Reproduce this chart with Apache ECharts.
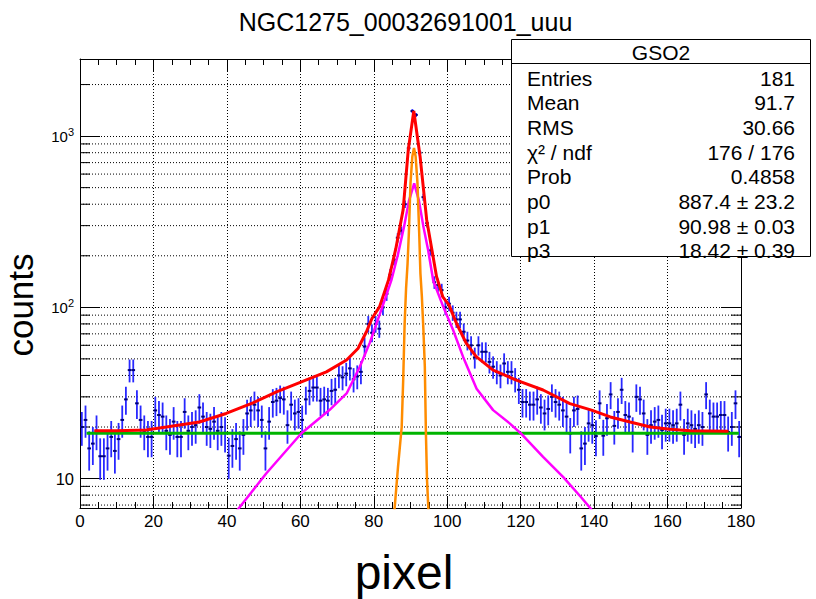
<!DOCTYPE html>
<html>
<head>
<meta charset="utf-8">
<script src="https://cdn.jsdelivr.net/npm/echarts@6/dist/echarts.min.js"></script>
<style>
html,body{margin:0;padding:0;background:#ffffff;}
#chart{width:816px;height:599px;}
</style>
</head>
<body>
<div id="chart"></div>
<script>
// ---------------- data ----------------
const chartTitle = 'NGC1275_00032691001_uuu';
const xAxisTitle = 'pixel';
const yAxisTitle = 'counts';

const xMin = 0, xMax = 180, xTickStep = 20, binWidth = 1;
const yMin = 6.73, yMax = 2820;

// histogram contents, one per bin (bin i spans [i, i+1])
const counts = [
  20, 22, 15, 16, 19, 13.5, 13.5, 15, 17.5, 14.5,
  17, 22, 29, 43, 43, 27.5, 22, 19, 17.5, 17.5,
  25, 23.5, 23, 19, 18, 21.5, 17.5, 17.5, 24.5, 19,
  20, 20.5, 26, 23, 20, 19.5, 21.5, 19, 20, 18.5,
  13.6, 15.5, 17, 15, 18, 24, 25, 27, 25, 22,
  15, 21.5, 28, 28.5, 29.5, 29, 20.5, 27, 24, 24.5,
  22, 29, 32.5, 34, 34, 28.5, 29, 28.5, 32.5, 33,
  40, 39, 41, 44, 38, 39.5, 42, 59, 80, 71,
  80, 75, 100, 120, 155, 190, 255, 280, 400, 850,
  1400, 1330, 800, 440, 310, 215, 140, 135, 126, 100,
  105, 93, 85, 85, 72, 64, 60, 51, 60, 55,
  55, 48, 45, 42, 40, 47, 42, 42, 38, 33,
  28, 28, 27, 27, 29, 26, 24, 25.5, 30, 28,
  27, 25, 23, 18.3, 25, 25.5, 15, 16, 21, 20.5,
  17.7, 27.5, 17.8, 22.5, 31, 20.3, 24.5, 33, 23.5, 23,
  18.5, 30, 29, 24, 18, 20.5, 21.5, 22, 19.2, 21,
  21, 20.5, 21, 27, 18, 21, 20.5, 19.5, 20.5, 20,
  31, 24, 23, 23, 23.5, 23.5, 18.7, 20, 27.5, 17.5
];

const yMajorTicks = [10, 100, 1000];
const yMajorLabelBase = ['10', '10', '10'];
const yMajorLabelExp = ['', '2', '3'];
const yMinorTicks = [7, 8, 9, 20, 30, 40, 50, 60, 70, 80, 90,
                     200, 300, 400, 500, 600, 700, 800, 900, 2000];

// fitted curves, points [x, counts]
const fitTotal = [
  [3.9, 19.0], [10, 19.0], [18, 19.2], [23.5, 20.0], [32.5, 21.4], [39.8, 24.0],
  [47.1, 27.7], [53.5, 32.1], [60.3, 36.7], [67.1, 42.0], [72.6, 49.2], [75.7, 57.5],
  [78.0, 72], [79.5, 86], [81.6, 101], [84.0, 144], [86.0, 220], [88.0, 372],
  [89.4, 834], [90.9, 1400], [92.6, 763], [94.4, 325], [97.1, 151], [98.8, 115],
  [100.5, 103], [102.5, 80.7], [105.2, 61.6], [107.9, 51.5], [112.5, 43.0], [118.8, 37.6],
  [126.1, 32.9], [133.4, 27.4], [139.3, 25.1], [144.4, 22.9], [149.8, 21.4], [155.3, 20.0],
  [160.7, 19.4], [166.2, 19.0], [176.6, 18.9]
];
const fitCore = [
  [42.5, 6.4], [50.7, 10.7], [60.3, 18.4], [68.0, 25.2], [72.6, 31.4], [76.2, 45],
  [78.9, 62], [82.5, 103], [84.8, 144], [86.5, 200], [88.3, 300], [89.6, 420],
  [91.0, 530], [92.3, 420], [93.5, 297], [94.8, 216], [96.2, 143], [98.9, 101],
  [101.6, 73.7], [104.3, 51.5], [108.0, 33.5], [112.5, 25.1], [117.0, 21.0], [120.0, 18.4],
  [126.1, 13.4], [131.6, 10.2], [136.4, 7.8], [139.8, 6.4]
];
const fitGauss = [
  [85.6, 6.4], [86.6, 11.7], [87.6, 20], [88.0, 37], [88.4, 80], [88.8, 130],
  [89.2, 180], [89.55, 271], [90.0, 531], [90.5, 760], [90.95, 851], [91.4, 760],
  [91.9, 531], [92.37, 271], [92.7, 158], [93.1, 115], [93.5, 75], [93.9, 45],
  [94.2, 18.3], [94.5, 9.8], [94.9, 6.4]
];
const fitConst = [[1.8, 18.42], [179.4, 18.42]];

// statistics box
const statTitle = 'GSO2';
const statNames = ['Entries', 'Mean', 'RMS', 'χ² / ndf', 'Prob', 'p0', 'p1', 'p3'];
const statValues = ['181', '91.7', '30.66', '176 / 176', '0.4858',
                    '887.4 ± 23.2', '90.98 ± 0.03', '18.42 ± 0.39'];

// ---------------- chart ----------------
const FONT = 'Liberation Sans, Arial, Helvetica, sans-serif';
const histData = counts.map((c, i) => [xMin + (i + 0.5) * binWidth, c]);

function yLabel(value) {
  for (let k = 0; k < yMajorTicks.length; k++) {
    if (Math.abs(value - yMajorTicks[k]) < 1e-6 * yMajorTicks[k]) {
      return yMajorLabelExp[k] ? '{b|' + yMajorLabelBase[k] + '}{s|' + yMajorLabelExp[k] + '}'
                               : '{n|' + yMajorLabelBase[k] + '}';
    }
  }
  return '';
}

const dotted = { color: '#000', width: 1, type: [1, 2] };

const xAxisCommon = {
  type: 'value', min: xMin, max: xMax, interval: xTickStep,
  axisLine: { show: true, onZero: false, lineStyle: { color: '#000', width: 1 } },
  axisTick: { show: true, inside: true, length: 12, lineStyle: { color: '#000', width: 1 } },
  minorTick: { show: true, splitNumber: 4, length: 6, lineStyle: { color: '#000', width: 1 } }
};
const yAxisCommon = {
  type: 'log', logBase: 10, min: yMin, max: yMax,
  axisLine: { show: true, onZero: false, lineStyle: { color: '#000', width: 1 } },
  axisTick: { show: true, inside: true, length: 20, lineStyle: { color: '#000', width: 1 } },
  minorTick: { show: false }
};

const option = {
  backgroundColor: '#ffffff',
  animation: false,
  grid: { left: 80, right: 75, top: 59, bottom: 91, containLabel: false },
  xAxis: [
    Object.assign({}, xAxisCommon, {
      position: 'bottom',
      axisLabel: { show: true, color: '#000', fontFamily: FONT, fontSize: 17, margin: 5,
                   formatter: v => String(v) },
      splitLine: { show: true, lineStyle: dotted }
    }),
    Object.assign({}, xAxisCommon, {
      position: 'top',
      axisLabel: { show: false },
      splitLine: { show: false }
    })
  ],
  yAxis: [
    Object.assign({}, yAxisCommon, {
      position: 'left',
      axisLabel: {
        show: true, margin: 6, formatter: yLabel, showMinLabel: false, showMaxLabel: false,
        rich: {
          n: { fontFamily: FONT, fontSize: 16.5, color: '#000' },
          b: { fontFamily: FONT, fontSize: 15, color: '#000' },
          s: { fontFamily: FONT, fontSize: 11, color: '#000', verticalAlign: 'top', padding: [0, 0, 9, 0] }
        }
      },
      splitLine: { show: true, lineStyle: dotted }
    }),
    Object.assign({}, yAxisCommon, {
      position: 'right',
      axisLabel: { show: false },
      splitLine: { show: false }
    })
  ],
  series: [
    {
      type: 'custom', name: 'minor y ticks', xAxisIndex: 0, yAxisIndex: 0,
      silent: true, clip: false, z: 1,
      data: yMinorTicks.map(v => [xMin, v]),
      renderItem(params, api) {
        const v = api.value(1);
        const a = api.coord([xMin, v]);
        const b = api.coord([xMax, v]);
        return {
          type: 'group', children: [
            { type: 'line', shape: { x1: a[0], y1: a[1], x2: b[0], y2: b[1] },
              style: { stroke: '#000', lineWidth: 1, lineDash: [1, 2] } },
            { type: 'line', shape: { x1: a[0], y1: a[1], x2: a[0] + 10, y2: a[1] },
              style: { stroke: '#000', lineWidth: 1 } },
            { type: 'line', shape: { x1: b[0] - 10, y1: b[1], x2: b[0], y2: b[1] },
              style: { stroke: '#000', lineWidth: 1 } }
          ]
        };
      }
    },
    {
      type: 'custom', name: 'GSO2', xAxisIndex: 0, yAxisIndex: 0,
      clip: true, z: 3,
      data: histData,
      renderItem(params, api) {
        const x = api.value(0), v = api.value(1), e = Math.sqrt(v);
        const top = api.coord([x, v + e]);
        const bot = api.coord([x, Math.max(v - e, 0.01)]);
        const l = api.coord([x - binWidth / 2, v]);
        const r = api.coord([x + binWidth / 2, v]);
        return {
          type: 'group', children: [
            { type: 'line', shape: { x1: top[0], y1: top[1], x2: bot[0], y2: bot[1] },
              style: { stroke: '#2828ff', lineWidth: 1.8 } },
            { type: 'line', shape: { x1: l[0], y1: l[1], x2: r[0], y2: r[1] },
              style: { stroke: '#00007a', lineWidth: 2 } }
          ]
        };
      }
    },
    { type: 'line', name: 'constant', data: fitConst, showSymbol: false, clip: true, z: 4,
      lineStyle: { color: '#00b400', width: 3 } },
    { type: 'line', name: 'total fit', data: fitTotal, showSymbol: false, clip: true, z: 5,
      lineStyle: { color: '#ff0000', width: 3 } },
    { type: 'line', name: 'core', data: fitCore, showSymbol: false, clip: true, z: 6,
      lineStyle: { color: '#ff00ff', width: 2.5 } },
    { type: 'line', name: 'gauss', data: fitGauss, showSymbol: false, clip: true, z: 7,
      lineStyle: { color: '#ff8c00', width: 2.5 } }
  ],
  graphic: [
    { type: 'text', x: 405.5, y: 22, z: 100,
      style: { text: chartTitle, font: '25px ' + FONT, fill: '#000', align: 'center', verticalAlign: 'middle' } },
    { type: 'text', x: 404, y: 572, z: 100,
      style: { text: xAxisTitle, font: '48px ' + FONT, fill: '#000', align: 'center', verticalAlign: 'middle' } },
    { type: 'text', x: 20, y: 305, rotation: Math.PI / 2, z: 100,
      style: { text: yAxisTitle, font: '35px ' + FONT, fill: '#000', align: 'center', verticalAlign: 'middle' } },
    { type: 'rect', z: 100, shape: { x: 511.5, y: 39.5, width: 299, height: 217 },
      style: { fill: '#fff', stroke: '#000', lineWidth: 1 } },
    { type: 'line', z: 101, shape: { x1: 511.5, y1: 63.5, x2: 810.5, y2: 63.5 },
      style: { stroke: '#000', lineWidth: 1 } },
    { type: 'text', x: 661, y: 52, z: 102,
      style: { text: statTitle, font: '21px ' + FONT, fill: '#000', align: 'center', verticalAlign: 'middle' } }
  ]
};

statNames.forEach((name, i) => {
  const y = 78 + i * 24.7;
  option.graphic.push({ type: 'text', x: 527, y: y, z: 102,
    style: { text: name, font: '21px ' + FONT, fill: '#000', align: 'left', verticalAlign: 'middle' } });
  option.graphic.push({ type: 'text', x: 795, y: y, z: 102,
    style: { text: statValues[i], font: '21px ' + FONT, fill: '#000', align: 'right', verticalAlign: 'middle' } });
});

const chart = echarts.init(document.getElementById('chart'), null, { renderer: 'svg' });
chart.setOption(option);
</script>
</body>
</html>
